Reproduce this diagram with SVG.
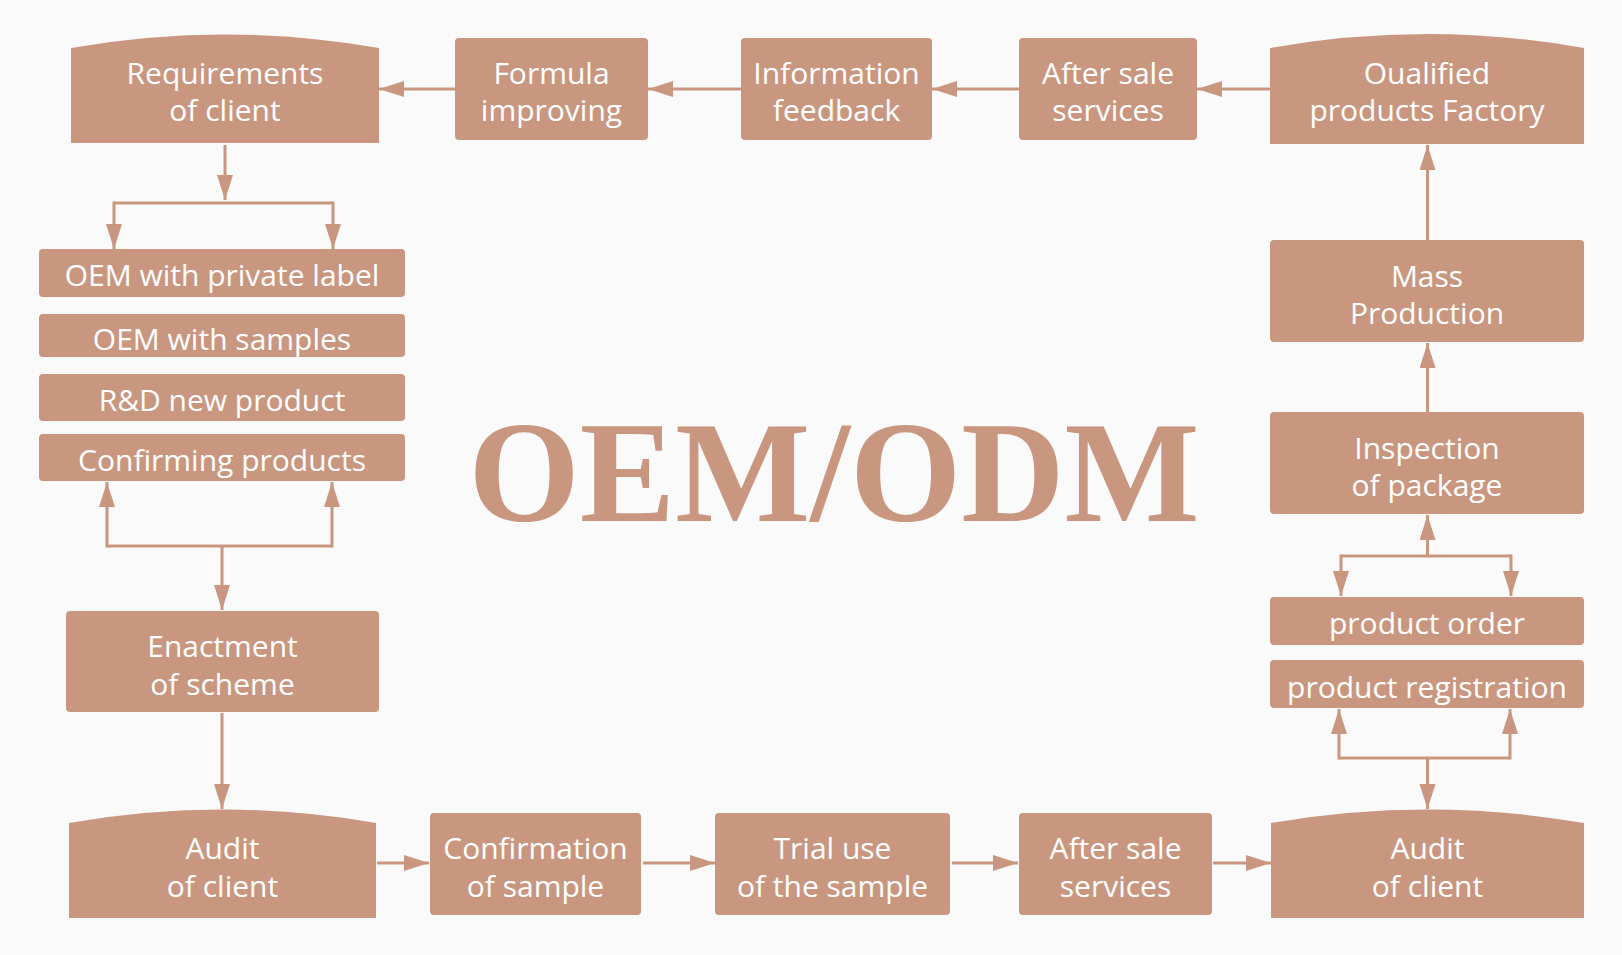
<svg xmlns="http://www.w3.org/2000/svg" width="1622" height="955" viewBox="0 0 1622 955">
<defs>
<style>
.bx{fill:#C9977F}
.t{font-family:"Open Sans","Liberation Sans",sans-serif;font-size:30px;fill:#FFFFFF;text-anchor:middle}
.c{fill:none;stroke:#C9977F;stroke-width:3}
.big{font-family:"Liberation Serif","Times New Roman",serif;font-weight:bold;font-size:143px;fill:#C9977F;text-anchor:middle}
</style>
<marker id="ah" markerUnits="userSpaceOnUse" markerWidth="26" markerHeight="18" refX="25" refY="8" orient="auto">
<path d="M0,0 L25,8 L0,16 Z" fill="#C9977F"/>
</marker>
</defs>
<rect width="1622" height="955" fill="#FAFAFA"/>

<g id="n-requirements">
<path class="bx" d="M71,48 Q225,21 379,48 L379,143 L71,143 Z"/>
<text class="t" x="225" y="83.5">Requirements</text>
<text class="t" x="225" y="120.5">of client</text>
</g>
<g id="n-formula">
<rect class="bx" x="455" y="38" width="193" height="102" rx="4"/>
<text class="t" x="551.5" y="83.5">Formula</text>
<text class="t" x="551.5" y="120.5">improving</text>
</g>
<g id="n-information">
<rect class="bx" x="741" y="38" width="191" height="102" rx="4"/>
<text class="t" x="836.5" y="83.5">Information</text>
<text class="t" x="836.5" y="120.5">feedback</text>
</g>
<g id="n-aftersale-top">
<rect class="bx" x="1019" y="38" width="178" height="102" rx="4"/>
<text class="t" x="1108" y="83.5">After sale</text>
<text class="t" x="1108" y="120.5">services</text>
</g>
<g id="n-qualified">
<path class="bx" d="M1270,48 Q1427,20 1584,48 L1584,144 L1270,144 Z"/>
<text class="t" x="1427" y="83.5">Oualified</text>
<text class="t" x="1427" y="120.5">products Factory</text>
</g>
<g id="n-mass">
<rect class="bx" x="1270" y="240" width="314" height="102" rx="4"/>
<text class="t" x="1427" y="286.5">Mass</text>
<text class="t" x="1427" y="323.5">Production</text>
</g>
<g id="n-inspection">
<rect class="bx" x="1270" y="412" width="314" height="102" rx="4"/>
<text class="t" x="1427" y="458.5">Inspection</text>
<text class="t" x="1427" y="495.5">of package</text>
</g>
<g id="n-order">
<rect class="bx" x="1270" y="597" width="314" height="48" rx="4"/>
<text class="t" x="1427" y="633.5">product order</text>
</g>
<g id="n-registration">
<rect class="bx" x="1270" y="660" width="314" height="48" rx="4"/>
<text class="t" x="1427" y="697.5">product registration</text>
</g>
<g id="n-oem-private">
<rect class="bx" x="39" y="249" width="366" height="48" rx="4"/>
<text class="t" x="222" y="286">OEM with private label</text>
</g>
<g id="n-oem-samples">
<rect class="bx" x="39" y="314" width="366" height="43" rx="4"/>
<text class="t" x="222" y="349.5">OEM with samples</text>
</g>
<g id="n-rd">
<rect class="bx" x="39" y="374" width="366" height="47" rx="4"/>
<text class="t" x="222" y="410.5">R&amp;D new product</text>
</g>
<g id="n-confirming">
<rect class="bx" x="39" y="434" width="366" height="47" rx="4"/>
<text class="t" x="222" y="470.5">Confirming products</text>
</g>
<g id="n-enactment">
<rect class="bx" x="66" y="611" width="313" height="101" rx="4"/>
<text class="t" x="222.5" y="656.5">Enactment</text>
<text class="t" x="222.5" y="694.5">of scheme</text>
</g>
<g id="n-audit-left">
<path class="bx" d="M69,823 Q222.5,796 376,823 L376,918 L69,918 Z"/>
<text class="t" x="222.5" y="858.5">Audit</text>
<text class="t" x="222.5" y="896.5">of client</text>
</g>
<g id="n-confirmation">
<rect class="bx" x="430" y="813" width="211" height="102" rx="4"/>
<text class="t" x="535.5" y="858.5">Confirmation</text>
<text class="t" x="535.5" y="896.5">of sample</text>
</g>
<g id="n-trial">
<rect class="bx" x="715" y="813" width="235" height="102" rx="4"/>
<text class="t" x="832.5" y="858.5">Trial use</text>
<text class="t" x="832.5" y="896.5">of the sample</text>
</g>
<g id="n-aftersale-bottom">
<rect class="bx" x="1019" y="813" width="193" height="102" rx="4"/>
<text class="t" x="1115.5" y="858.5">After sale</text>
<text class="t" x="1115.5" y="896.5">services</text>
</g>
<g id="n-audit-right">
<path class="bx" d="M1271,823 Q1427.5,796 1584,823 L1584,918 L1271,918 Z"/>
<text class="t" x="1427.5" y="858.5">Audit</text>
<text class="t" x="1427.5" y="896.5">of client</text>
</g>

<g id="title">
<text class="big" x="834" y="521">OEM/ODM</text>
</g>

<g id="connectors">
<line class="c" x1="455" y1="89" x2="379" y2="89" marker-end="url(#ah)"/>
<line class="c" x1="741" y1="89" x2="648" y2="89" marker-end="url(#ah)"/>
<line class="c" x1="1019" y1="89" x2="932" y2="89" marker-end="url(#ah)"/>
<line class="c" x1="1270" y1="89" x2="1197" y2="89" marker-end="url(#ah)"/>
<line class="c" x1="1427.5" y1="240" x2="1427.5" y2="145" marker-end="url(#ah)"/>
<line class="c" x1="1427.5" y1="412" x2="1427.5" y2="343" marker-end="url(#ah)"/>
<line class="c" x1="1427.5" y1="556" x2="1427.5" y2="515" marker-end="url(#ah)"/>
<polyline class="c" points="1341,556 1511,556"/>
<line class="c" x1="1341" y1="554.5" x2="1341" y2="596" marker-end="url(#ah)"/>
<line class="c" x1="1511" y1="554.5" x2="1511" y2="596" marker-end="url(#ah)"/>
<polyline class="c" points="1339,758 1510,758"/>
<line class="c" x1="1339" y1="759.5" x2="1339" y2="709" marker-end="url(#ah)"/>
<line class="c" x1="1510" y1="759.5" x2="1510" y2="709" marker-end="url(#ah)"/>
<line class="c" x1="1427.5" y1="758" x2="1427.5" y2="809" marker-end="url(#ah)"/>
<line class="c" x1="225" y1="145" x2="225" y2="200" marker-end="url(#ah)"/>
<polyline class="c" points="114,203 333,203"/>
<line class="c" x1="114" y1="201.5" x2="114" y2="249" marker-end="url(#ah)"/>
<line class="c" x1="333" y1="201.5" x2="333" y2="249" marker-end="url(#ah)"/>
<polyline class="c" points="107,546 332,546"/>
<line class="c" x1="107" y1="547.5" x2="107" y2="482" marker-end="url(#ah)"/>
<line class="c" x1="332" y1="547.5" x2="332" y2="482" marker-end="url(#ah)"/>
<line class="c" x1="222" y1="546" x2="222" y2="610" marker-end="url(#ah)"/>
<line class="c" x1="222" y1="713" x2="222" y2="809" marker-end="url(#ah)"/>
<line class="c" x1="377" y1="863" x2="429" y2="863" marker-end="url(#ah)"/>
<line class="c" x1="643" y1="863" x2="715" y2="863" marker-end="url(#ah)"/>
<line class="c" x1="952" y1="863" x2="1018" y2="863" marker-end="url(#ah)"/>
<line class="c" x1="1213" y1="863" x2="1271" y2="863" marker-end="url(#ah)"/>
</g>
</svg>
